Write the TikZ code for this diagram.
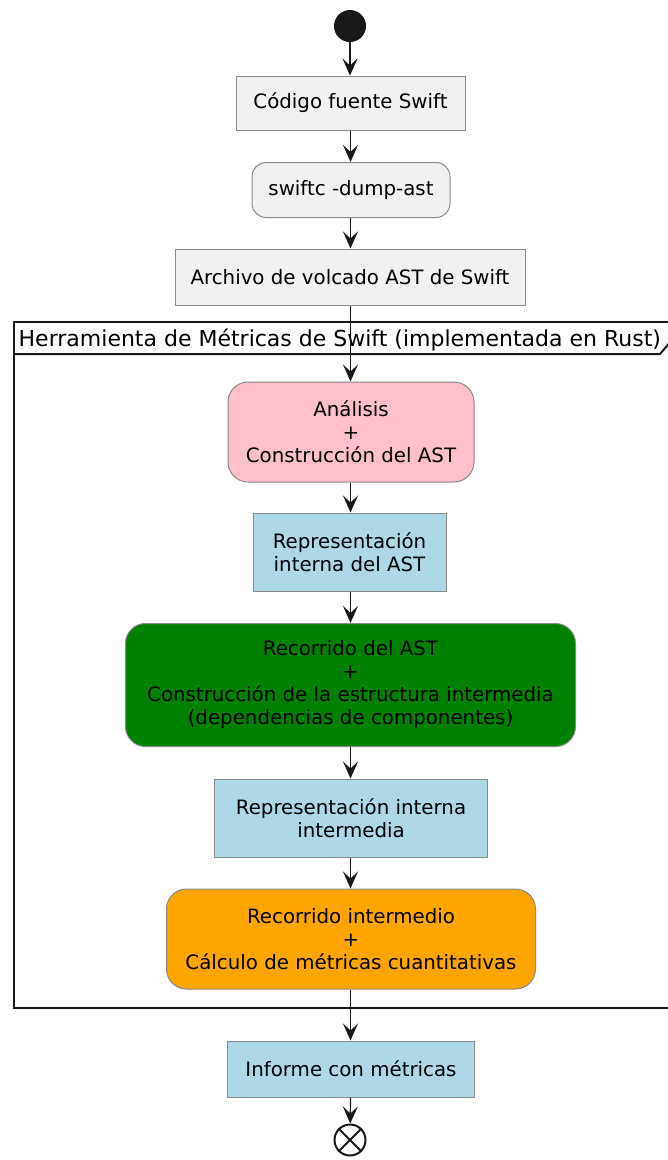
\documentclass[tikz,border=0pt]{standalone}
\usepackage{fontspec}
\setmainfont{DejaVu Sans}
\usetikzlibrary{arrows.meta}
\definecolor{boxgray}{HTML}{F1F1F1}
\definecolor{edgegray}{HTML}{8A8A8A}
\definecolor{ink}{HTML}{181818}
\definecolor{pinkfill}{HTML}{FFC0CB}
\definecolor{bluefill}{HTML}{ADD8E6}
\definecolor{greenfill}{HTML}{008000}
\definecolor{orangefill}{HTML}{FFA500}
\tikzset{
  box/.style={draw=edgegray, line width=1pt, inner sep=0pt, align=center,
    font=\fontsize{19.8}{23}\selectfont},
  roundbox/.style={box, rounded corners=20pt},
  flow/.style={draw=ink, line width=1.2pt,
    -{Stealth[length=17pt,width=15pt,inset=7pt]}},
  frameline/.style={draw=ink, line width=2pt},
}
\begin{document}
\begin{tikzpicture}[x=1pt,y=-1pt]
\useasboundingbox (0,0) rectangle (668,1160);
\fill[white] (0,0) rectangle (668,1160);

% partition frame with its header tab
\draw[frameline] (14,322) rectangle (676,1008);
\draw[frameline] (14,354) -- (660,354) -- (672,340) -- (672,322);
\node[anchor=base west, inner sep=0pt, font=\fontsize{22}{25}\selectfont]
  (title) at (18.5,346) {Herramienta de Métricas de Swift (implementada en Rust)};

% start and end markers
\node[circle, fill=ink, minimum size=32pt, inner sep=0pt] (start) at (350,26) {};
\node[circle, draw=ink, line width=2pt, fill=white, minimum size=31pt, inner sep=0pt]
  (stop) at (350,1140) {};
\draw[ink, line width=2pt] (stop.north east) -- (stop.south west)
  (stop.north west) -- (stop.south east);

% activities
\node[box, fill=boxgray, minimum width=229pt, minimum height=54pt] (src) at (350.5,103)
  {Código fuente Swift};
\node[box, fill=boxgray, rounded corners=14pt, minimum width=198pt, minimum height=55pt]
  (dump) at (351,190) {swiftc -dump-ast};
\node[box, fill=boxgray, minimum width=350pt, minimum height=56pt] (astfile) at (350,277)
  {Archivo de volcado AST de Swift};
\node[roundbox, fill=pinkfill, minimum width=246pt, minimum height=100pt] (parse)
  at (351,432) {Análisis\\+\\Construcción del AST};
\node[box, fill=bluefill, minimum width=193pt, minimum height=78pt] (astrep)
  at (349.5,552) {Representación\\interna del AST};
\node[roundbox, fill=greenfill, minimum width=450pt, minimum height=123pt] (walk)
  at (350.5,685) {Recorrido del AST\\+\\Construcción de la estructura intermedia\\(dependencias de componentes)};
\node[box, fill=bluefill, minimum width=273pt, minimum height=78pt] (midrep)
  at (351,818) {Representación interna\\intermedia};
\node[roundbox, fill=orangefill, minimum width=369pt, minimum height=100pt] (metrics)
  at (351,939) {Recorrido intermedio\\+\\Cálculo de métricas cuantitativas};
\node[box, fill=bluefill, minimum width=247pt, minimum height=56pt] (report)
  at (351,1069) {Informe con métricas};

% control flow
\draw[flow] (start) -- (start |- src.north);
\draw[flow] (src) -- (src |- dump.north);
\draw[flow] (dump.south -| src) -- (src |- astfile.north);
\draw[flow] (astfile.south -| src) -- (src |- parse.north);
\draw[flow] (parse.south -| src) -- (src |- astrep.north);
\draw[flow] (astrep.south -| src) -- (src |- walk.north);
\draw[flow] (walk.south -| src) -- (src |- midrep.north);
\draw[flow] (midrep.south -| src) -- (src |- metrics.north);
\draw[flow] (metrics.south -| src) -- (src |- report.north);
\draw[flow] (report.south -| src) -- (stop);
\end{tikzpicture}
\end{document}
